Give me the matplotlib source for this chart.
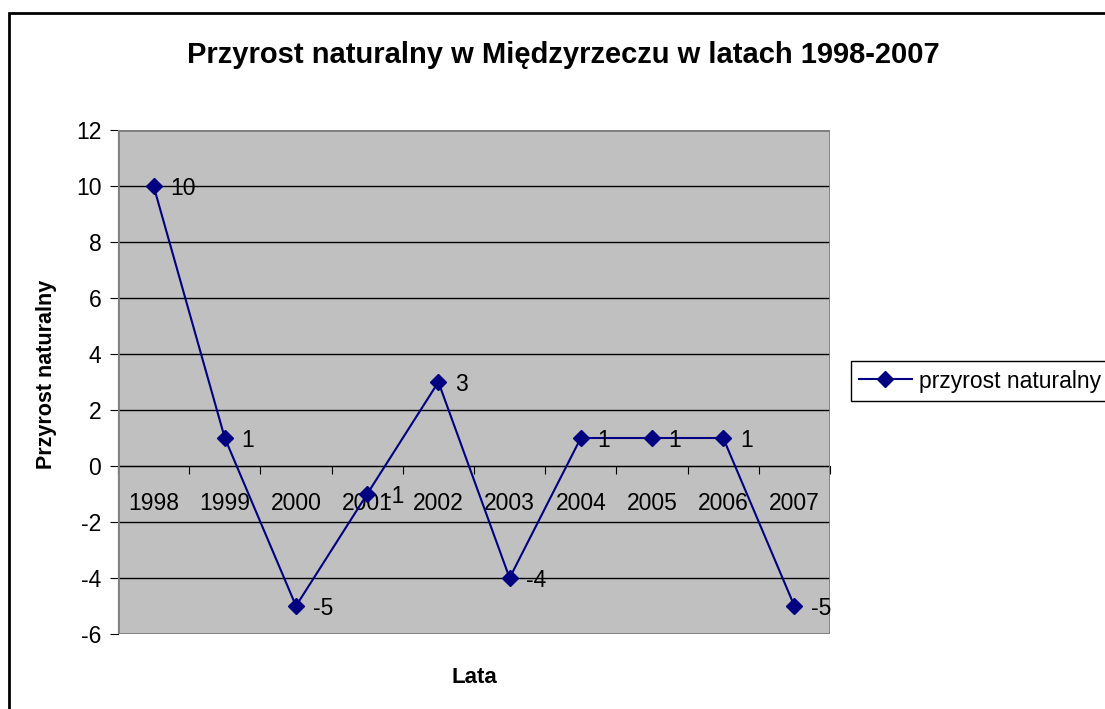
import numpy as np
import matplotlib.pyplot as plt
from matplotlib.patches import Rectangle

plt.rcParams['font.family'] = ['Liberation Sans', 'DejaVu Sans']
plt.rcParams['axes.unicode_minus'] = False

lata = ['1998', '1999', '2000', '2001', '2002', '2003', '2004', '2005', '2006', '2007']
przyrost = [10, 1, -5, -1, 3, -4, 1, 1, 1, -5]

fig = plt.figure(figsize=(11.05, 7.09), dpi=100)
ax = fig.add_axes([118/1105, 75/709, 712/1105, 504/709])
ax.set_facecolor('#c0c0c0')

x = np.arange(len(lata)) + 0.5
line, = ax.plot(x, przyrost, color='#000080', lw=1.5, marker='D', ms=8.5,
                label='przyrost naturalny', zorder=5, clip_on=False)
for xi, v in zip(x, przyrost):
    ax.annotate(str(v), (xi, v), xytext=(12, -2), textcoords='offset points',
                va='center', ha='left', fontsize=16.5, zorder=6)

ax.set_xlim(0, len(lata))
ax.set_ylim(-6, 12)
ax.set_yticks(np.arange(-6, 13, 2))
ax.yaxis.grid(True, color='black', lw=1)
ax.set_axisbelow(True)

# os kategorii przecina zero
ax.spines['bottom'].set_position(('data', 0))
ax.spines['bottom'].set_color('black')
ax.spines['left'].set_color('black')
for s in ['top', 'right']:
    ax.spines[s].set_visible(False)
ax.add_patch(Rectangle((0, 0), 1, 1, transform=ax.transAxes, fill=False,
                       ec='#808080', lw=2, zorder=3))
ax.set_xticks(np.arange(0, len(lata) + 1))
ax.set_xticklabels([])
ax.set_xticks(x, minor=True)
ax.set_xticklabels(lata, minor=True, fontsize=16.5)
ax.tick_params(axis='x', which='major', direction='out', length=6, color='black')
ax.tick_params(axis='x', which='minor', length=0, pad=19)
ax.tick_params(axis='y', direction='out', length=6, labelsize=16.5, pad=6)

ax.set_ylabel('Przyrost naturalny', fontsize=15.5, fontweight='bold')
ax.yaxis.set_label_coords(-0.086, 0.515)
ax.set_xlabel('Lata', fontsize=16, fontweight='bold')
ax.xaxis.set_label_coords(0.5, -0.065)

fig.text(563/1105, 1 - 55/709, 'Przyrost naturalny w Międzyrzeczu w latach 1998-2007',
         ha='center', va='center', fontsize=21, fontweight='bold')

leg = fig.legend(handles=[line], loc='center left',
                 bbox_to_anchor=(851/1105, 1 - 381/709), fontsize=16.5,
                 frameon=True, fancybox=False, framealpha=1, edgecolor='black',
                 handlelength=2.3, borderpad=0.35, handletextpad=0.3,
                 borderaxespad=0)
leg.get_frame().set_linewidth(1)

fig.add_artist(Rectangle((9/1105, -0.05), 1.2, 1 - 13/709 + 0.05,
                         transform=fig.transFigure, fill=False, ec='black', lw=2))

fig.savefig('out.png', dpi=100)
